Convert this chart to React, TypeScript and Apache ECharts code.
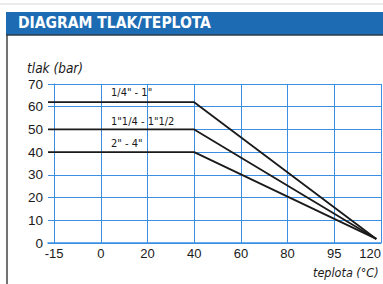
import React, { useEffect, useRef } from "react";
import * as echarts from "echarts";

// x axis categories (equally spaced on the chart)
const TEMP_LABELS = ["-15", "0", "20", "40", "60", "80", "95", "120"];
const X_MIN = -0.13; // axis starts slightly left of -15
const X_MAX = 7;
// series: [category index, pressure bar]
const SERIES_NAMES = ['1/4" - 1"', '1"1/4 - 1"1/2', '2" - 4"'];
const SMALL = [[X_MIN, 62], [3, 62], [6.9, 1.8]];
const MEDIUM = [[X_MIN, 50], [3, 50], [6.9, 1.8]];
const LARGE = [[X_MIN, 40], [3, 40], [6.9, 1.8]];
const Y_TICKS = [0, 10, 20, 30, 40, 50, 60, 70];

const BLUE = "#3b8fe3";
const NARROW = "'DejaVu Sans Condensed', 'Liberation Sans Narrow', sans-serif";

export default function App() {
  const ref = useRef<HTMLDivElement>(null);
  useEffect(() => {
    if (!ref.current) return;
    const chart = echarts.init(ref.current, null, { renderer: "svg" });
    const lineSeries = (name: string, data: number[][], w: number) => ({
      name,
      type: "line",
      data,
      symbol: "none",
      lineStyle: { color: "#1a1a1a", width: w },
      silent: true,
      z: 5,
    });
    chart.setOption({
      animation: false,
      backgroundColor: "#ffffff",
      grid: { left: 48, right: 2, top: 84, bottom: 41, containLabel: false, outerBoundsMode: "none" },
      xAxis: {
        type: "value",
        min: X_MIN,
        max: X_MAX,
        splitLine: { show: false },
        axisTick: { show: false },
        axisLine: { show: true, lineStyle: { color: BLUE, width: 1.5 } },
        axisLabel: {
          customValues: TEMP_LABELS.map((_, i) => i),
          formatter: (v: number) => TEMP_LABELS[Math.round(v)] ?? "",
          color: "#1a1a1a",
          fontSize: 13,
          fontFamily: "'Liberation Sans', Arial, sans-serif",
          margin: 4,
          hideOverlap: false,
          alignMaxLabel: "right",
        },
      },
      yAxis: {
        type: "value",
        min: Y_TICKS[0],
        max: Y_TICKS[Y_TICKS.length - 1],
        interval: 10,
        axisLine: { show: true, lineStyle: { color: BLUE, width: 1 } },
        axisTick: { show: false },
        splitLine: { show: true, lineStyle: { color: BLUE, width: 1 } },
        axisLabel: {
          color: "#1a1a1a",
          fontSize: 13.5,
          fontFamily: "'Liberation Sans', Arial, sans-serif",
          margin: 5,
        },
      },
      series: [
        {
          type: "line",
          data: [],
          silent: true,
          markLine: {
            silent: true,
            symbol: "none",
            label: { show: false },
            data: TEMP_LABELS.map((_, i) => ({
              xAxis: i,
              lineStyle: { color: BLUE, width: 1, type: i === 0 ? "dashed" : "solid" },
            })),
          },
        },
        lineSeries(SERIES_NAMES[0], SMALL, 1.8),
        lineSeries(SERIES_NAMES[1], MEDIUM, 1.8),
        lineSeries(SERIES_NAMES[2], LARGE, 1.8),
      ],
      graphic: [
        { type: "rect", shape: { x: 0, y: 0, width: 383, height: 284 }, style: { fill: "#fff" }, z: -10 },
        { type: "line", shape: { x1: 0, y1: 4, x2: 383, y2: 4 }, style: { stroke: "#d8d8d8", lineWidth: 1 } },
        { type: "rect", shape: { x: 6, y: 12, width: 377, height: 23 }, style: { fill: "#1d6cb3" } },
        { type: "line", shape: { x1: 6, y1: 35, x2: 383, y2: 35 }, style: { stroke: "#2b3a48", lineWidth: 1.5 } },
        { type: "line", shape: { x1: 7, y1: 35, x2: 7, y2: 284 }, style: { stroke: "#444", lineWidth: 1.5 } },
        {
          type: "text",
          x: 18,
          y: 23,
          style: {
            text: "DIAGRAM TLAK/TEPLOTA",
            fill: "#fff",
            font: `bold 15.5px ${NARROW}`,
            verticalAlign: "middle",
          },
        },
        {
          type: "text",
          x: 27,
          y: 68,
          style: { text: "tlak (bar)", fill: "#1a1a1a", font: `italic 13.5px ${NARROW}`, verticalAlign: "middle" },
        },
        {
          type: "text",
          x: 313,
          y: 272,
          style: { text: "teplota (°C)", fill: "#1a1a1a", font: `italic 12.5px ${NARROW}`, verticalAlign: "middle" },
        },
        {
          type: "text",
          x: 111,
          y: 92,
          style: { text: SERIES_NAMES[0], fill: "#1a1a1a", font: `11px ${NARROW}`, verticalAlign: "middle" },
        },
        {
          type: "text",
          x: 111,
          y: 121,
          style: { text: SERIES_NAMES[1], fill: "#1a1a1a", font: `11px ${NARROW}`, verticalAlign: "middle" },
        },
        {
          type: "text",
          x: 111,
          y: 143,
          style: { text: SERIES_NAMES[2], fill: "#1a1a1a", font: `11px ${NARROW}`, verticalAlign: "middle" },
        },
      ],
    });
    return () => chart.dispose();
  }, []);
  return (
    <div
      ref={ref}
      style={{ position: "fixed", left: 0, top: 0, width: 383, height: 284 }}
    />
  );
}
